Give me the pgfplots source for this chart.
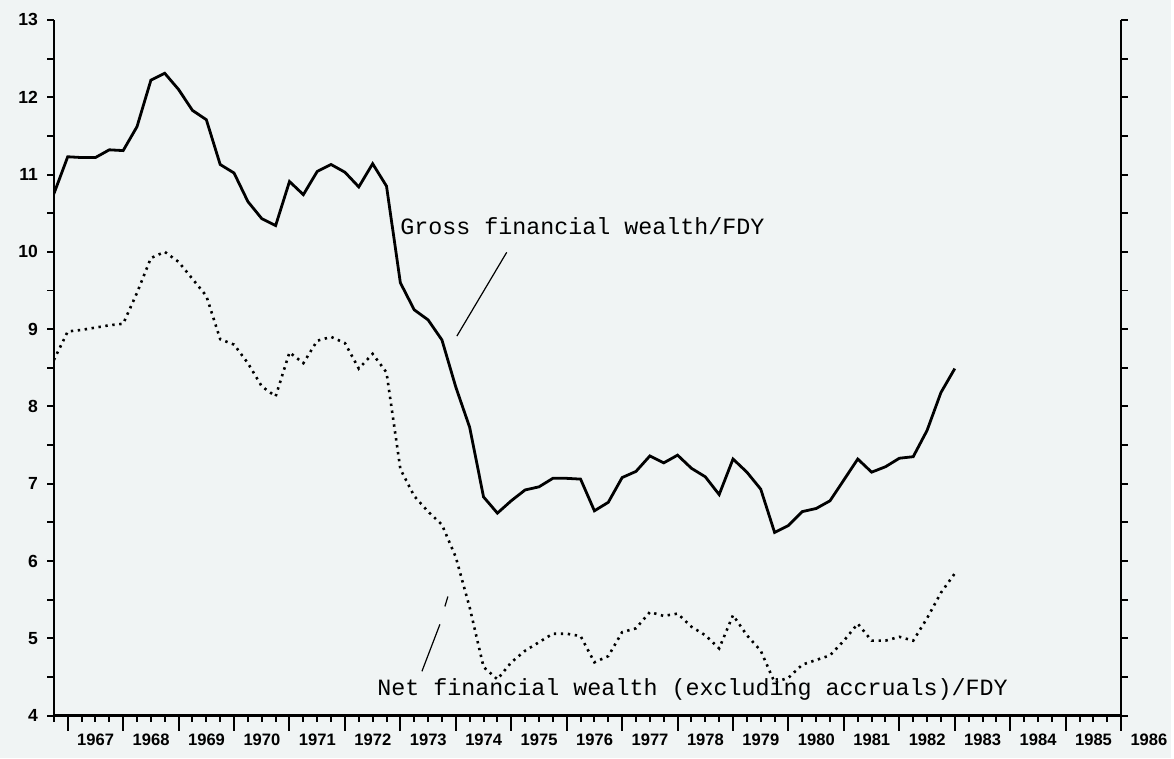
\documentclass[border=0pt]{standalone}
\usepackage{fontspec}
\setmainfont{Liberation Sans}
\setmonofont{Liberation Mono}
\usepackage{pgfplots}
\usepackage{pgfplotstable}
\pgfplotsset{compat=1.18}
\definecolor{bg}{RGB}{240,244,244}
\pgfplotstableread{
x gross net
1966.75 10.75 8.60
1967.00 11.23 8.97
1967.25 11.22 8.99
1967.50 11.22 9.02
1967.75 11.32 9.05
1968.00 11.31 9.07
1968.25 11.62 9.47
1968.50 12.22 9.92
1968.75 12.31 10.00
1969.00 12.10 9.87
1969.25 11.83 9.65
1969.50 11.71 9.43
1969.75 11.13 8.87
1970.00 11.02 8.80
1970.25 10.65 8.56
1970.50 10.43 8.26
1970.75 10.34 8.13
1971.00 10.91 8.70
1971.25 10.74 8.56
1971.50 11.04 8.85
1971.75 11.13 8.90
1972.00 11.03 8.82
1972.25 10.84 8.49
1972.50 11.14 8.68
1972.75 10.85 8.44
1973.00 9.60 7.19
1973.25 9.25 6.84
1973.50 9.12 6.64
1973.75 8.86 6.47
1974.00 8.25 6.05
1974.25 7.73 5.40
1974.50 6.83 4.63
1974.75 6.62 4.47
1975.00 6.78 4.69
1975.25 6.92 4.84
1975.50 6.96 4.95
1975.75 7.07 5.06
1976.00 7.07 5.06
1976.25 7.06 5.03
1976.50 6.65 4.69
1976.75 6.76 4.77
1977.00 7.08 5.08
1977.25 7.16 5.13
1977.50 7.36 5.34
1977.75 7.27 5.29
1978.00 7.37 5.32
1978.25 7.20 5.15
1978.50 7.09 5.04
1978.75 6.86 4.87
1979.00 7.32 5.30
1979.25 7.15 5.04
1979.50 6.93 4.84
1979.75 6.37 4.43
1980.00 6.46 4.49
1980.25 6.64 4.66
1980.50 6.68 4.72
1980.75 6.78 4.78
1981.00 7.05 4.97
1981.25 7.32 5.19
1981.50 7.15 4.97
1981.75 7.22 4.97
1982.00 7.33 5.02
1982.25 7.35 4.97
1982.50 7.69 5.26
1982.75 8.18 5.59
1983.00 8.49 5.84
}\data
\begin{document}
\begin{tikzpicture}
\fill[bg] (0,0) rectangle (587pt,380pt);
\begin{axis}[
  at={(27pt,21.25pt)}, anchor=south west,
  scale only axis, width=535pt, height=348.75pt,
  xmin=1966.75, xmax=1986, ymin=4, ymax=13,
  axis x line=bottom, axis y line=box,
  axis line style={-, line width=1.3pt},
  every outer x axis line/.append style={-},
  every outer y axis line/.append style={-},
  tick align=outside,
  xtick={1967,...,1986},
  minor xtick={1966.75,1967,...,1986},
  ytick={4,...,13},
  minor ytick={4,4.5,...,13},
  major tick length=7.5pt, minor tick length=3.3pt,
  tick style={line width=1pt, black},
  every major y tick/.append style={draw=none},
  /pgf/number format/1000 sep={},
  /pgf/number format/assume math mode=true,
  yticklabel style={font=\fontsize{8.8}{10}\selectfont\bfseries, xshift=3pt},
  xticklabel style={font=\fontsize{8.3}{10}\selectfont\bfseries, xshift=14pt, yshift=2pt},
]
\addplot[black, line width=1.4pt] table[x=x,y=gross]{\data};
\addplot[black, line width=1.3pt, dash pattern=on 1.2pt off 2.3pt] table[x=x,y=net]{\data};
\node[font=\ttfamily\fontsize{11.7}{14}\selectfont, anchor=base west, inner sep=0pt] at (axis cs:1972.993,10.226) {Gross financial wealth/FDY};
\draw[line width=0.6pt] (axis cs:1974.918,9.994) -- (axis cs:1974.019,8.910);
\node[font=\ttfamily\fontsize{11.7}{14}\selectfont, anchor=base west, inner sep=0pt] at (axis cs:1972.579,4.265) {Net financial wealth (excluding accruals)/FDY};
\draw[line width=0.6pt] (axis cs:1973.857,5.542) -- (axis cs:1973.803,5.413);
\draw[line width=0.6pt] (axis cs:1973.713,5.181) -- (axis cs:1973.389,4.574);
\end{axis}
\end{tikzpicture}
\end{document}
